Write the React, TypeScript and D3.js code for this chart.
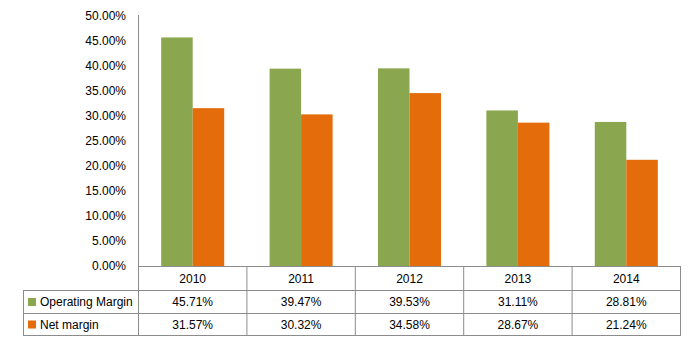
import React from "react";
import * as d3 from "d3";

const years = ["2010", "2011", "2012", "2013", "2014"];
const seriesNames = ["Operating Margin", "Net margin"];
const operatingMargin = [45.71, 39.47, 39.53, 31.11, 28.81];
const netMargin = [31.57, 30.32, 34.58, 28.67, 21.24];
const yTicks = [0, 5, 10, 15, 20, 25, 30, 35, 40, 45, 50];
const colors = ["#8AA64F", "#E46C0A"];

export default function App() {
  const W = 696, H = 343;
  const left = 138.5, right = 680.5, top = 16, zeroY = 266;
  const rowCat = 290, row1 = 313, row2 = 335, tableLeft = 23.5;
  const font = "'Liberation Sans', Arial, sans-serif";
  const grid = "#8c8c8c";

  const y = d3.scaleLinear().domain([0, 50]).range([zeroY, top]);
  const x = d3.scaleBand<string>().domain(years).range([left, right]).paddingInner(0).paddingOuter(0);
  const xs = d3.scaleBand<string>().domain(seriesNames).range([0, x.bandwidth()]).paddingInner(0).paddingOuter(0.72);
  const series = [operatingMargin, netMargin];
  const rowsY = [[rowCat, row1], [row1, row2]];

  return (
    <svg width={W} height={H} style={{ position: "absolute", left: 0, top: 0, background: "#fff" }}>
      {/* bars */}
      {series.map((vals, si) =>
        vals.map((v, i) => (
          <rect
            key={`${si}-${i}`}
            x={x(years[i])! + xs(seriesNames[si])!}
            y={y(v)}
            width={xs.bandwidth()}
            height={zeroY - y(v)}
            fill={colors[si]}
          />
        ))
      )}
      {/* y tick labels */}
      {yTicks.map((t) => (
        <text key={t} x={126} y={y(t)} dy="0.35em" textAnchor="end" fontFamily={font} fontSize={12} fill="#000">
          {t.toFixed(2) + "%"}
        </text>
      ))}
      {/* axis line */}
      <line x1={left} x2={left} y1={top - 1} y2={row2} stroke={grid} strokeWidth={1} />
      {/* table horizontal lines */}
      <line x1={left} x2={right} y1={zeroY + 0.5} y2={zeroY + 0.5} stroke={grid} />
      <line x1={tableLeft} x2={right} y1={rowCat + 0.5} y2={rowCat + 0.5} stroke={grid} />
      <line x1={tableLeft} x2={right} y1={row1 + 0.5} y2={row1 + 0.5} stroke={grid} />
      <line x1={tableLeft} x2={right} y1={row2 + 0.5} y2={row2 + 0.5} stroke={grid} />
      <line x1={tableLeft} x2={tableLeft} y1={rowCat} y2={row2 + 1} stroke={grid} />
      {years.map((yr) => (
        <line key={yr} x1={x(yr)! + x.bandwidth()} x2={x(yr)! + x.bandwidth()} y1={zeroY} y2={row2 + 1} stroke={grid} />
      ))}
      {/* category labels */}
      {years.map((yr) => (
        <text key={yr} x={x(yr)! + x.bandwidth() / 2} y={(zeroY + rowCat) / 2 + 1} dy="0.35em" textAnchor="middle" fontFamily={font} fontSize={12} fill="#000">
          {yr}
        </text>
      ))}
      {/* data rows */}
      {series.map((vals, si) => (
        <g key={si}>
          <rect x={28} y={(rowsY[si][0] + rowsY[si][1]) / 2 - 3.5} width={8} height={8} fill={colors[si]} />
          <text x={40} y={(rowsY[si][0] + rowsY[si][1]) / 2 + 0.5} dy="0.35em" fontFamily={font} fontSize={12} fill="#000">
            {seriesNames[si]}
          </text>
          {vals.map((v, i) => (
            <text key={i} x={x(years[i])! + x.bandwidth() / 2} y={(rowsY[si][0] + rowsY[si][1]) / 2 + 0.5} dy="0.35em" textAnchor="middle" fontFamily={font} fontSize={12} fill="#000">
              {v.toFixed(2) + "%"}
            </text>
          ))}
        </g>
      ))}
    </svg>
  );
}
